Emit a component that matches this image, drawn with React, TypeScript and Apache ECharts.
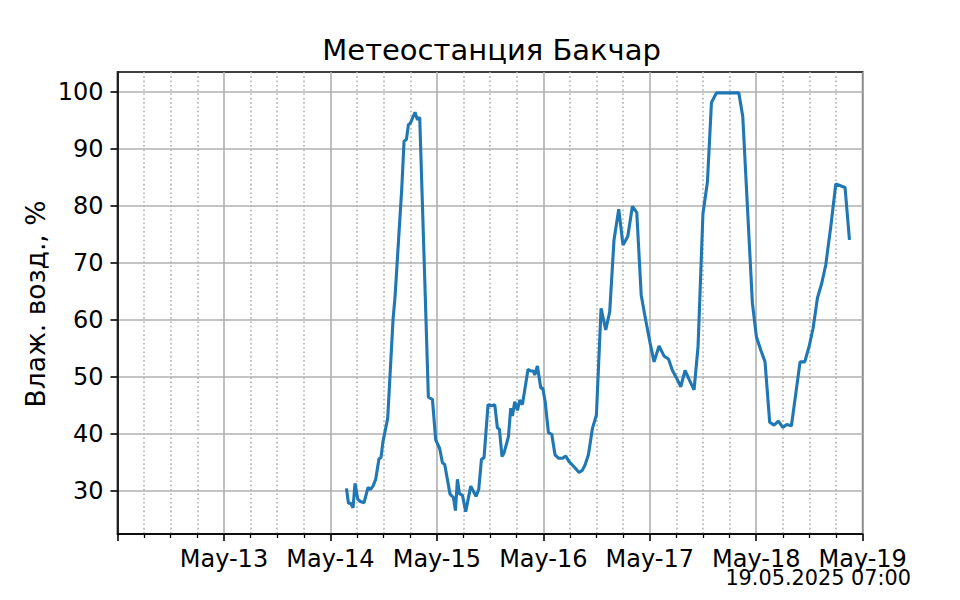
import React, { useEffect, useRef } from "react";
import * as echarts from "echarts";

const TITLE = "Метеостанция Бакчар";
const Y_NAME = "Влаж. возд., %";
const STAMP = "19.05.2025 07:00";

const dayLabels = ["May-12", "May-13", "May-14", "May-15", "May-16", "May-17", "May-18", "May-19"];
const yTicks = [30, 40, 50, 60, 70, 80, 90, 100];

const times = [
  "2025-05-14 03:37", "2025-05-14 04:04", "2025-05-14 04:35", "2025-05-14 05:06", "2025-05-14 05:33",
  "2025-05-14 06:10", "2025-05-14 06:46", "2025-05-14 07:35", "2025-05-14 08:29", "2025-05-14 09:01",
  "2025-05-14 09:36", "2025-05-14 10:13", "2025-05-14 10:57", "2025-05-14 11:24", "2025-05-14 11:51",
  "2025-05-14 12:55", "2025-05-14 14:07", "2025-05-14 14:34", "2025-05-14 16:05", "2025-05-14 16:36",
  "2025-05-14 17:08", "2025-05-14 17:35", "2025-05-14 18:02", "2025-05-14 19:04", "2025-05-14 19:37",
  "2025-05-14 20:08", "2025-05-14 21:09", "2025-05-14 22:05", "2025-05-14 23:00", "2025-05-14 23:44",
  "2025-05-15 00:38", "2025-05-15 01:15", "2025-05-15 01:46", "2025-05-15 02:58", "2025-05-15 03:44",
  "2025-05-15 04:11", "2025-05-15 04:38", "2025-05-15 05:05", "2025-05-15 05:46", "2025-05-15 06:30",
  "2025-05-15 07:38", "2025-05-15 08:14", "2025-05-15 08:50", "2025-05-15 09:26", "2025-05-15 10:03",
  "2025-05-15 10:38", "2025-05-15 11:32", "2025-05-15 12:18", "2025-05-15 13:03", "2025-05-15 13:39",
  "2025-05-15 14:06", "2025-05-15 14:41", "2025-05-15 15:08", "2025-05-15 16:08", "2025-05-15 16:39",
  "2025-05-15 17:02", "2025-05-15 17:33", "2025-05-15 18:10", "2025-05-15 18:41", "2025-05-15 19:17",
  "2025-05-15 20:33", "2025-05-15 21:10", "2025-05-15 21:46", "2025-05-15 22:04", "2025-05-15 22:40",
  "2025-05-15 23:25", "2025-05-15 23:52", "2025-05-16 00:26", "2025-05-16 01:09", "2025-05-16 01:54",
  "2025-05-16 02:38", "2025-05-16 03:25", "2025-05-16 04:19", "2025-05-16 05:03", "2025-05-16 05:48",
  "2025-05-16 06:55", "2025-05-16 08:03", "2025-05-16 08:49", "2025-05-16 09:24", "2025-05-16 10:10",
  "2025-05-16 11:04", "2025-05-16 11:58", "2025-05-16 13:01", "2025-05-16 14:04", "2025-05-16 14:58",
  "2025-05-16 15:56", "2025-05-16 17:00", "2025-05-16 17:58", "2025-05-16 19:02", "2025-05-16 20:05",
  "2025-05-16 21:04", "2025-05-16 22:04", "2025-05-16 23:05", "2025-05-17 00:04", "2025-05-17 00:58",
  "2025-05-17 02:05", "2025-05-17 03:13", "2025-05-17 04:13", "2025-05-17 05:07", "2025-05-17 06:05",
  "2025-05-17 06:59", "2025-05-17 07:57", "2025-05-17 08:56", "2025-05-17 09:59", "2025-05-17 10:53",
  "2025-05-17 11:59", "2025-05-17 13:00", "2025-05-17 13:54", "2025-05-17 15:02", "2025-05-17 20:04",
  "2025-05-17 20:58", "2025-05-17 23:08", "2025-05-18 00:02", "2025-05-18 01:01", "2025-05-18 01:59",
  "2025-05-18 03:02", "2025-05-18 04:01", "2025-05-18 05:00", "2025-05-18 05:58", "2025-05-18 06:52",
  "2025-05-18 07:56", "2025-05-18 09:53", "2025-05-18 10:56", "2025-05-18 11:55", "2025-05-18 12:49",
  "2025-05-18 13:48", "2025-05-18 14:46", "2025-05-18 15:40", "2025-05-18 16:48", "2025-05-18 17:56",
  "2025-05-18 20:01", "2025-05-18 21:01",
];

const humidity = [
  30.4, 27.8, 27.8, 27.0, 31.3,
  28.5, 28.1, 27.9, 30.6, 30.2,
  30.8, 32.0, 35.6, 35.8, 38.6,
  42.7, 60.0, 64.0, 83.0, 91.3,
  91.6, 94.2, 94.5, 96.4, 95.1,
  95.5, 70.0, 46.4, 46.0, 38.9,
  37.4, 34.9, 34.6, 29.4, 28.8,
  26.5, 32.0, 29.5, 29.2, 26.3,
  30.8, 29.9, 29.0, 30.2, 35.5,
  35.8, 45.1, 44.9, 45.1, 41.0,
  40.8, 36.0, 36.6, 39.5, 44.5,
  43.1, 45.6, 44.1, 45.9, 45.1,
  51.3, 51.0, 51.0, 50.3, 51.9,
  48.0, 48.0, 45.5, 40.2, 39.9,
  36.3, 35.7, 35.7, 36.1, 35.1,
  34.2, 33.2, 33.6, 34.5, 36.3,
  40.9, 43.3, 62.0, 58.2, 61.4,
  74.0, 79.4, 73.1, 74.6, 79.9,
  78.8, 64.3, 59.9, 55.9, 52.6,
  55.4, 53.6, 53.1, 51.1, 49.7,
  48.2, 51.1, 49.4, 47.7, 55.3,
  78.6, 84.2, 98.1, 99.8, 99.8,
  95.6, 62.9, 57.0, 54.7, 52.6,
  42.0, 41.5, 42.2, 41.1, 41.6,
  41.4, 52.6, 52.6, 55.3, 58.5,
  63.8, 66.4, 69.6, 76.3, 83.8,
  83.2, 74.0,
];

// hours since 2025-05-12 00:00
function hoursSinceStart(s: string): number {
  const [d, t] = s.split(" ");
  const day = Number(d.split("-")[2]);
  const [h, m] = t.split(":").map(Number);
  return (day - 12) * 24 + h + m / 60;
}

const FONT = "DejaVu Sans";

export default function App() {
  const ref = useRef<HTMLDivElement>(null);

  useEffect(() => {
    if (!ref.current) return;
    const chart = echarts.init(ref.current, undefined, { renderer: "svg" });
    const data = times.map((t, i) => [hoursSinceStart(t), humidity[i]]);
    const gridLeft = 117.5;
    const gridRight = 862.7;
    const gridTop = 72;
    const gridBottom = 534;

    chart.setOption({
      animation: false,
      backgroundColor: "#ffffff",
      grid: {
        left: gridLeft,
        top: gridTop,
        width: gridRight - gridLeft,
        height: gridBottom - gridTop,
        show: true,
        borderColor: "#000000",
        borderWidth: 1.6,
        backgroundColor: "transparent",
        containLabel: false,
      },
      xAxis: {
        type: "value",
        min: 0,
        max: 168,
        interval: 24,
        axisLine: { show: true, lineStyle: { color: "#000000", width: 1.6 } },
        axisTick: { show: true, length: 7, lineStyle: { color: "#000000", width: 1.6 } },
        minorTick: { show: true, splitNumber: 4, length: 4, lineStyle: { color: "#000000", width: 1.3 } },
        splitLine: { show: true, lineStyle: { color: "#b0b0b0", width: 1.6 } },
        minorSplitLine: { show: true, lineStyle: { color: "#b0b0b0", width: 1.6, type: [1.6, 2.7] } },
        axisLabel: {
          formatter: (v: number) => dayLabels[Math.round(v / 24)] ?? "",
          fontSize: 24,
          fontFamily: FONT,
          color: "#000000",
          margin: 13,
          showMinLabel: false,
          showMaxLabel: true,
        },
      },
      yAxis: {
        type: "value",
        min: 22.4,
        max: 103.46,
        interval: 10,
        axisLine: { show: true, lineStyle: { color: "#000000", width: 1.6 } },
        axisTick: { show: true, length: 7, lineStyle: { color: "#000000", width: 1.6 }, customValues: yTicks },
        splitLine: { show: true, lineStyle: { color: "#b0b0b0", width: 1.6 } },
        axisLabel: {
          fontSize: 24,
          fontFamily: FONT,
          color: "#000000",
          margin: 14,
          customValues: yTicks,
        },
      },
      series: [
        {
          type: "line",
          data,
          showSymbol: false,
          symbol: "none",
          lineStyle: { color: "#1f77b4", width: 3.1 },
          z: 3,
        },
      ],
      graphic: [
        {
          type: "text",
          x: (gridLeft + gridRight) / 2 + 1.5,
          y: 50,
          style: {
            text: TITLE,
            fontSize: 29,
            fontFamily: FONT,
            fill: "#000000",
            align: "center",
            verticalAlign: "middle",
            textAlign: "center",
            textVerticalAlign: "middle",
          },
        },
        {
          type: "text",
          x: 35,
          y: 304,
          rotation: Math.PI / 2,
          style: {
            text: Y_NAME,
            fontSize: 26.5,
            fontFamily: FONT,
            fill: "#000000",
            align: "center",
            verticalAlign: "middle",
            textAlign: "center",
            textVerticalAlign: "middle",
          },
        },
        {
          type: "text",
          x: 911,
          y: 578,
          style: {
            text: STAMP,
            fontSize: 20.8,
            fontFamily: FONT,
            fill: "#000000",
            align: "right",
            verticalAlign: "middle",
            textAlign: "right",
            textVerticalAlign: "middle",
          },
        },
      ],
    });

    return () => chart.dispose();
  }, []);

  return (
    <div
      ref={ref}
      style={{ position: "absolute", left: 0, top: 0, width: 960, height: 600, background: "#fff" }}
    />
  );
}
